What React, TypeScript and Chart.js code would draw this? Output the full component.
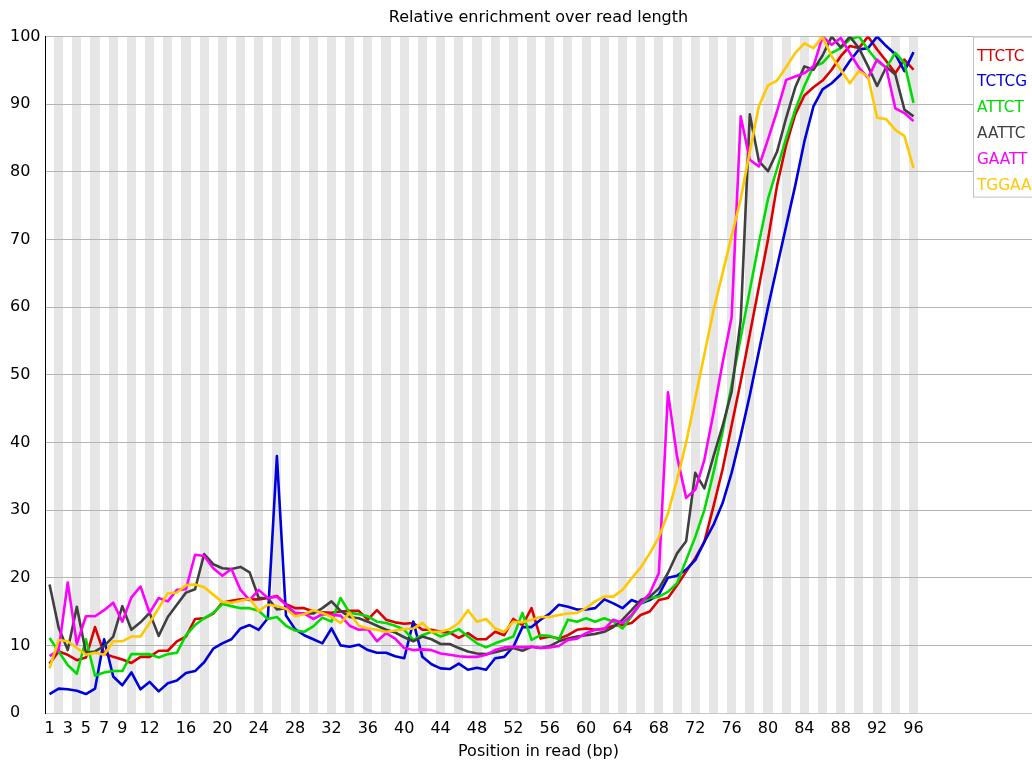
import React, { useEffect, useRef } from "react";
import { Chart, registerables } from "chart.js";

Chart.register(...registerables);

const TITLE = "Relative enrichment over read length";
const X_TITLE = "Position in read (bp)";

const POSITIONS = [
  1, 2, 3, 4, 5, 6, 7, 8, 9, 10, 11, 12, 13, 14, 15, 16, 17, 18, 19, 20,
  21, 22, 23, 24, 25, 26, 27, 28, 29, 30, 31, 32, 33, 34, 35, 36, 37, 38, 39, 40,
  41, 42, 43, 44, 45, 46, 47, 48, 49, 50, 51, 52, 53, 54, 55, 56, 57, 58, 59, 60,
  61, 62, 63, 64, 65, 66, 67, 68, 69, 70, 71, 72, 73, 74, 75, 76, 77, 78, 79, 80,
  81, 82, 83, 84, 85, 86, 87, 88, 89, 90, 91, 92, 93, 94, 95, 96,
];

const X_TICKS = [1, 3, 5, 7, 9, 12, 16, 20, 24, 28, 32, 36, 40, 44, 48, 52, 56, 60, 64, 68, 72, 76, 80, 84, 88, 92, 96];
const Y_TICKS = [0, 10, 20, 30, 40, 50, 60, 70, 80, 90, 100];

const TTCTC = [
  7.3, 9.1, 8.6, 7.8, 8.2, 12.7, 8.8, 8.3, 7.9, 7.4,
  8.3, 8.3, 9.2, 9.2, 10.6, 11.3, 13.9, 14.0, 14.7, 16.3,
  16.6, 16.8, 16.8, 16.8, 17.0, 17.3, 16.1, 15.5, 15.5, 15.0,
  14.9, 14.8, 15.0, 15.1, 15.1, 13.8, 15.2, 13.8, 13.4, 13.2,
  13.3, 12.3, 12.3, 12.0, 11.9, 11.1, 11.8, 10.9, 10.9, 12.0,
  11.5, 13.9, 13.0, 15.5, 11.0, 11.3, 11.0, 11.5, 12.3, 12.5,
  12.3, 12.5, 12.9, 13.0, 13.3, 14.5, 15.0, 16.7, 17.0, 18.9,
  20.9, 22.9, 25.3, 30.5, 36.0, 42.5, 49.0, 56.0, 63.0, 70.0,
  78.0, 84.0, 88.5, 91.3, 92.5, 93.5, 95.1, 97.1, 98.6, 98.3,
  100.0, 98.1, 96.4, 94.6, 96.6, 95.1,
];

const TCTCG = [
  2.8, 3.6, 3.5, 3.3, 2.8, 3.6, 10.9, 5.4, 4.1, 6.0,
  3.5, 4.6, 3.2, 4.4, 4.8, 5.9, 6.2, 7.5, 9.5, 10.3,
  10.9, 12.5, 13.0, 12.3, 14.0, 38.0, 14.4, 12.4, 11.5, 10.9,
  10.3, 12.5, 10.0, 9.8, 10.1, 9.3, 8.9, 8.9, 8.4, 8.1,
  13.5, 8.3, 7.2, 6.6, 6.5, 7.3, 6.4, 6.7, 6.4, 8.1,
  8.3, 9.8, 12.7, 12.7, 13.8, 14.7, 16.0, 15.7, 15.3, 15.3,
  15.5, 16.8, 16.2, 15.5, 16.7, 16.2, 16.7, 17.5, 20.0, 20.3,
  21.2, 22.6, 25.3, 27.8, 31.0, 35.5, 41.0, 47.0, 53.5, 60.0,
  66.0, 72.0, 78.0, 84.5, 89.7, 92.2, 93.1, 94.4, 96.4, 98.1,
  98.3, 100.0, 98.6, 97.4, 94.9, 97.7,
];

const ATTCT = [
  11.1, 9.1, 7.1, 5.8, 10.9, 5.5, 6.0, 6.2, 6.2, 8.7,
  8.7, 8.7, 8.2, 8.7, 8.9, 11.5, 13.0, 14.0, 14.8, 16.1,
  15.8, 15.5, 15.5, 15.1, 13.9, 14.2, 12.9, 12.2, 12.0, 12.8,
  14.1, 13.5, 17.0, 14.8, 14.6, 14.3, 13.5, 13.3, 12.9, 12.3,
  10.8, 11.5, 12.0, 11.3, 11.8, 12.4, 11.3, 10.3, 9.7, 10.3,
  10.8, 11.3, 14.8, 10.8, 11.5, 11.4, 10.9, 13.8, 13.5, 14.0,
  13.5, 14.0, 13.5, 12.5, 14.3, 16.2, 17.0, 17.2, 17.9, 19.2,
  22.6, 26.0, 30.0, 35.5, 41.5, 48.5, 55.5, 62.5, 69.5, 76.0,
  80.5, 85.0, 89.2, 92.7, 95.6, 96.1, 97.6, 98.3, 99.6, 100.0,
  98.1, 96.4, 95.4, 97.6, 96.1, 90.2,
];

const AATTC = [
  19.0, 12.6, 9.3, 15.7, 8.9, 9.1, 9.9, 11.3, 15.8, 12.3,
  13.4, 14.8, 11.4, 14.2, 16.0, 17.8, 18.3, 23.5, 22.0, 21.4,
  21.3, 21.6, 20.8, 17.0, 17.0, 15.3, 15.5, 14.7, 14.7, 14.7,
  15.5, 16.5, 15.1, 14.2, 14.0, 13.5, 12.9, 12.3, 11.9, 11.2,
  10.6, 11.3, 10.9, 10.2, 10.2, 9.6, 9.1, 8.8, 8.7, 9.0,
  9.3, 9.6, 9.2, 9.8, 9.6, 9.9, 10.6, 11.0, 11.3, 11.5,
  11.7, 12.0, 12.7, 13.8, 15.2, 16.7, 17.2, 18.4, 20.7, 23.6,
  25.4, 35.5, 33.2, 37.9, 42.4, 47.5, 58.1, 88.5, 81.6, 80.1,
  83.0, 88.0, 92.5, 95.6, 95.1, 97.2, 100.0, 98.4, 100.0, 98.3,
  95.6, 92.7, 95.5, 94.4, 89.2, 88.2,
];

const GAATT = [
  8.4, 9.3, 19.3, 10.2, 14.3, 14.3, 15.2, 16.3, 13.5, 17.1,
  18.7, 14.8, 17.0, 16.5, 18.2, 18.3, 23.4, 23.2, 21.4, 20.3,
  21.3, 18.2, 16.7, 18.2, 17.0, 17.2, 16.0, 14.8, 14.7, 13.9,
  14.6, 14.5, 14.4, 12.9, 12.3, 12.4, 10.6, 11.8, 11.0, 9.6,
  9.3, 9.4, 9.3, 8.8, 8.6, 8.4, 8.3, 8.3, 8.6, 9.3,
  9.7, 9.8, 9.7, 9.8, 9.6, 9.7, 9.9, 10.8, 11.0, 11.8,
  12.3, 12.4, 13.8, 13.3, 14.5, 16.2, 17.7, 20.7, 47.4, 37.9,
  31.8, 33.0, 37.4, 44.3, 51.7, 58.5, 88.2, 81.8, 80.8, 84.8,
  89.0, 93.6, 94.1, 94.6, 95.6, 100.0, 98.8, 99.8, 97.6, 95.4,
  93.9, 96.6, 95.4, 89.4, 88.7, 87.5,
];

const TGGAA = [
  6.6, 10.8, 10.6, 9.6, 8.6, 8.9, 8.6, 10.6, 10.6, 11.3,
  11.3, 13.3, 15.5, 17.7, 17.8, 18.9, 19.0, 18.6, 17.5, 16.4,
  16.3, 16.6, 16.9, 15.1, 16.0, 15.8, 15.4, 14.3, 14.6, 15.2,
  14.8, 14.2, 13.3, 14.8, 12.9, 12.5, 12.3, 12.0, 12.2, 12.4,
  12.5, 13.3, 12.0, 12.0, 12.4, 13.3, 15.2, 13.5, 13.9, 12.5,
  12.0, 13.5, 13.4, 13.8, 14.2, 14.2, 14.5, 14.7, 14.8, 15.5,
  16.5, 17.2, 17.2, 18.2, 19.9, 21.5, 23.6, 26.0, 29.5, 34.5,
  40.0, 46.5, 53.0, 59.5, 65.0, 70.5, 76.0, 83.0, 89.7, 92.8,
  93.5, 95.5, 97.6, 99.0, 98.3, 100.0, 97.1, 95.1, 93.1, 94.9,
  94.1, 88.0, 87.8, 86.2, 85.3, 80.6,
];

const SERIES_LABELS = ["TTCTC", "TCTCG", "ATTCT", "AATTC", "GAATT", "TGGAA"];
const SERIES_VALUES = [TTCTC, TCTCG, ATTCT, AATTC, GAATT, TGGAA];
const SERIES_COLORS = [
  "rgb(220,0,0)",
  "rgb(0,0,220)",
  "rgb(0,220,0)",
  "rgb(64,64,64)",
  "rgb(255,0,255)",
  "rgb(255,200,0)",
];

const FONT = "DejaVu Sans";

const stripePlugin = {
  id: "stripes",
  beforeDraw(chart: any) {
    const { ctx, chartArea, scales } = chart;
    const x = scales.x;
    ctx.save();
    ctx.fillStyle = "rgb(230,230,230)";
    for (const p of POSITIONS) {
      if (p % 2 !== 0) continue;
      const l = Math.round(x.getPixelForValue(p - 0.5));
      const r = Math.round(x.getPixelForValue(p + 0.5));
      ctx.fillRect(l, chartArea.top, r - l, chartArea.bottom - chartArea.top);
    }
    ctx.restore();
  },
};

const legendPlugin = {
  id: "boxLegend",
  afterDraw(chart: any) {
    const { ctx, chartArea } = chart;
    const left = chartArea.right - 59;
    const top = chartArea.top;
    const h = 160;
    ctx.save();
    ctx.fillStyle = "#ffffff";
    ctx.fillRect(left, top, 80, h);
    ctx.strokeStyle = "rgb(192,192,192)";
    ctx.lineWidth = 1;
    ctx.strokeRect(left + 0.5, top + 0.5, 80, h);
    ctx.font = `15.3px "${FONT}"`;
    ctx.textAlign = "left";
    ctx.textBaseline = "middle";
    chart.data.datasets.forEach((ds: any, i: number) => {
      ctx.fillStyle = ds.borderColor;
      ctx.fillText(ds.label, left + 4, top + 20 + i * 25.8);
    });
    ctx.restore();
  },
};

export default function App() {
  const ref = useRef<HTMLCanvasElement | null>(null);

  useEffect(() => {
    document.body.style.margin = "0";
    const canvas = ref.current;
    if (!canvas) return;
    Chart.defaults.font.family = FONT;
    Chart.defaults.font.size = 16;
    Chart.defaults.color = "#000";

    const datasets = SERIES_LABELS.map((label, i) => ({
      label,
      data: POSITIONS.map((p, j) => ({ x: p, y: SERIES_VALUES[i][j] })),
      borderColor: SERIES_COLORS[i],
      backgroundColor: SERIES_COLORS[i],
      borderWidth: 2.6,
      pointRadius: 0,
      tension: 0,
      fill: false,
      borderJoinStyle: "round",
      order: SERIES_LABELS.length - i,
    }));

    const chart = new Chart(canvas, {
      type: "line",
      data: { datasets },
      plugins: [stripePlugin, legendPlugin],
      options: {
        responsive: false,
        animation: false,
        events: [],
        layout: { padding: { left: 10, right: 0, top: 0, bottom: 0 } },
        plugins: {
          legend: { display: false },
          tooltip: { enabled: false },
          title: {
            display: true,
            text: TITLE,
            fullSize: false,
            color: "#000",
            font: { family: FONT, size: 16, weight: "normal" },
            padding: { top: 8, bottom: 9.4 },
          },
        },
        scales: {
          x: {
            type: "linear",
            min: 0.5,
            max: 109.03,
            grid: { display: false, drawTicks: false },
            border: { display: true, color: "rgb(200,200,200)", width: 1 },
            afterBuildTicks: (s: any) => {
              s.ticks = X_TICKS.map((v) => ({ value: v }));
            },
            afterFit: (s: any) => {
              s.height = 48;
            },
            ticks: {
              autoSkip: false,
              maxRotation: 0,
              minRotation: 0,
              padding: 6,
              color: "#000",
              font: { family: FONT, size: 16 },
              callback: (v: any) => String(v),
            },
            title: {
              display: true,
              text: X_TITLE,
              color: "#000",
              font: { family: FONT, size: 16 },
              padding: { top: 0, bottom: 0 },
            },
          },
          y: {
            type: "linear",
            min: 0,
            max: 100,
            afterBuildTicks: (s: any) => {
              s.ticks = Y_TICKS.map((v) => ({ value: v }));
            },
            afterFit: (s: any) => {
              s.width = 35;
            },
            grid: { color: "rgb(180,180,180)", drawTicks: false, lineWidth: 1 },
            border: { display: true, color: "#000", width: 1 },
            ticks: {
              crossAlign: "far",
              padding: 0,
              color: "#000",
              font: { family: FONT, size: 16 },
              callback: (v: any) => String(v),
            },
          },
        },
      } as any,
    });
    return () => chart.destroy();
  }, []);

  return (
    <div style={{ position: "absolute", left: 0, top: 0, width: 1032, height: 761 }}>
      <canvas ref={ref} width={1032} height={761} style={{ display: "block" }} />
    </div>
  );
}
